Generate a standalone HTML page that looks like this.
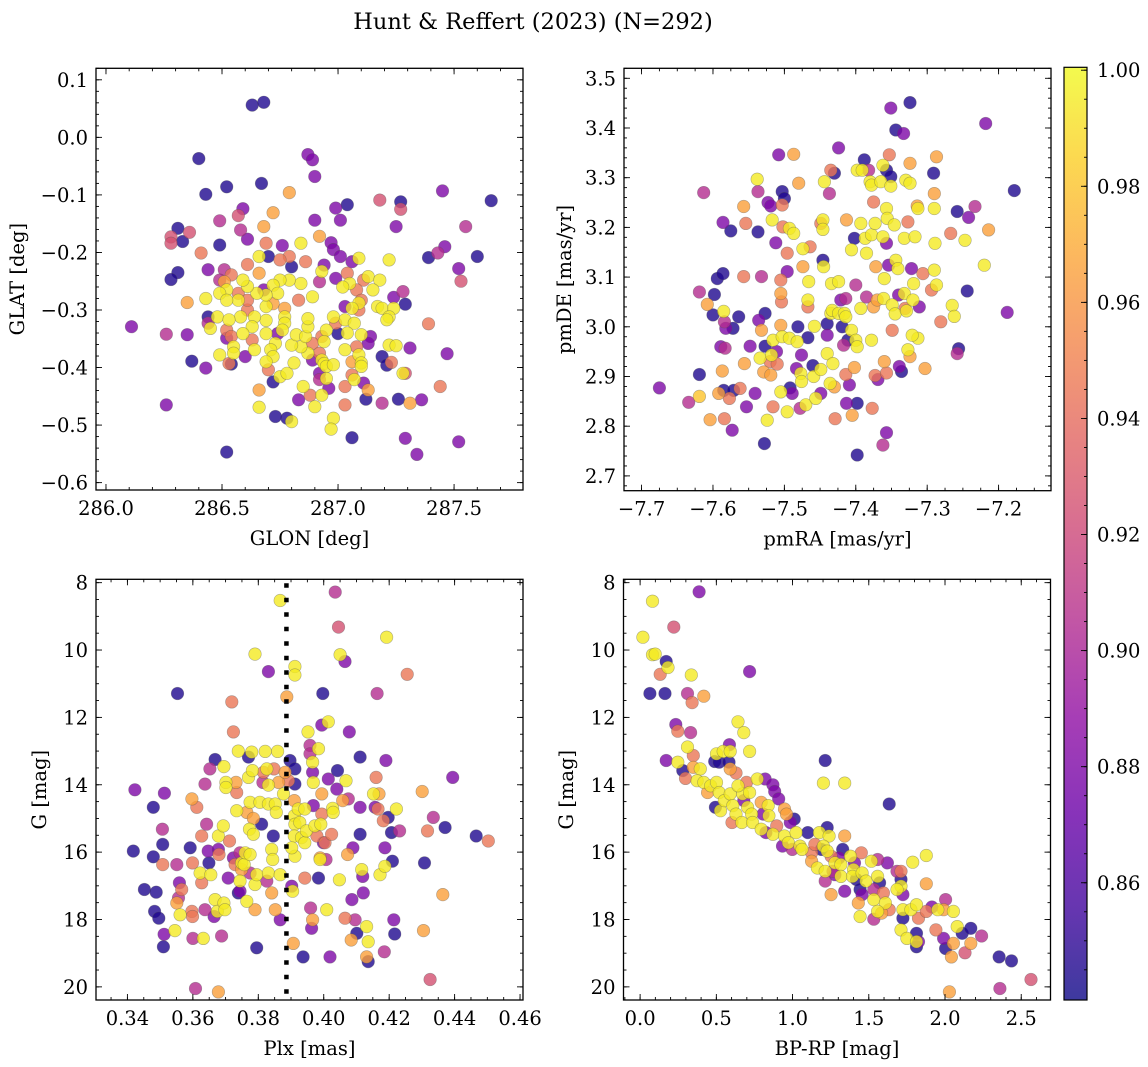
<!DOCTYPE html>
<html><head><meta charset="utf-8">
<style>
html,body{margin:0;padding:0;background:#fff;}
svg{display:block;font-family:"DejaVu Serif","Liberation Serif",serif;}
</style></head>
<body>
<svg id="fig" width="1148" height="1067" viewBox="0 0 1148 1067" xmlns="http://www.w3.org/2000/svg">
<text x="533" y="29" font-size="22.5" text-anchor="middle">Hunt &amp; Reffert (2023) (N=292)</text>
</svg>
<script>
// ---------- Panel 1: GLON / GLAT ----------
const glon=[286.11,286.63,286.68,286.40,286.43,286.52,286.67,286.79,286.87,286.89,286.90,286.90,286.99,287.01,287.04,287.18,287.27,287.27,287.25,287.45,287.66,287.55,287.46,287.43,287.39,287.60,287.52,287.53,287.28,287.24,287.29,287.39,287.31,287.47,287.19,287.21,287.23,287.29,287.44,287.31,287.36,287.26,287.19,287.29,287.34,287.52,287.06,286.52,286.26,286.26,286.35,286.37,286.43,286.28,286.28,286.31,286.33,286.36,286.31,286.28,286.41,286.35,286.44,286.49,286.49,286.59,286.57,286.58,286.61,286.72,286.68,286.69,286.70,286.76,286.79,286.75,286.80,286.86,286.92,286.84,286.97,286.98,287.01,287.06,287.09,287.22,286.94,286.61,286.66,286.66,286.93,286.92,286.99,287.04,287.05,287.02,287.11,287.13,287.18,287.15,287.08,287.10,287.09,287.17,287.19,287.24,287.22,287.21,287.09,287.03,287.03,287.07,287.04,287.10,287.14,287.13,287.08,287.03,287.09,287.10,287.06,287.10,287.07,287.06,287.11,287.13,287.12,287.03,287.03,287.22,287.25,287.28,286.98,286.99,286.95,287.00,286.93,286.89,286.94,286.92,286.93,286.94,286.89,286.92,286.95,286.98,286.92,286.95,286.96,286.93,286.90,286.98,286.97,286.88,286.85,286.83,286.80,286.78,286.73,286.66,286.66,286.72,286.75,286.78,286.81,286.87,286.84,286.80,286.82,286.86,286.87,286.87,286.83,286.89,286.84,286.79,286.75,286.72,286.74,286.72,286.77,286.77,286.77,286.76,286.74,286.73,286.71,286.72,286.69,286.70,286.69,286.69,286.69,286.69,286.68,286.65,286.64,286.63,286.64,286.63,286.60,286.61,286.58,286.59,286.57,286.57,286.61,286.59,286.54,286.51,286.52,286.51,286.49,286.49,286.52,286.43,286.48,286.44,286.44,286.45,286.53,286.52,286.54,286.52,286.55,286.55,286.49,286.54,286.53,286.61,287.06];
const glat=[-0.329,0.056,0.061,-0.037,-0.099,-0.086,-0.080,-0.096,-0.030,-0.039,-0.068,-0.144,-0.123,-0.144,-0.117,-0.109,-0.112,-0.125,-0.155,-0.093,-0.110,-0.155,-0.190,-0.201,-0.209,-0.207,-0.228,-0.250,-0.268,-0.278,-0.290,-0.324,-0.366,-0.376,-0.381,-0.396,-0.391,-0.410,-0.433,-0.462,-0.456,-0.455,-0.462,-0.523,-0.551,-0.529,-0.522,-0.547,-0.465,-0.342,-0.343,-0.389,-0.401,-0.173,-0.184,-0.158,-0.181,-0.165,-0.235,-0.247,-0.201,-0.287,-0.230,-0.145,-0.187,-0.124,-0.136,-0.161,-0.177,-0.131,-0.155,-0.184,-0.207,-0.188,-0.207,-0.213,-0.225,-0.216,-0.172,-0.184,-0.183,-0.195,-0.207,-0.216,-0.210,-0.213,-0.222,-0.221,-0.207,-0.236,-0.233,-0.251,-0.245,-0.236,-0.254,-0.260,-0.248,-0.242,-0.248,-0.265,-0.265,-0.283,-0.288,-0.294,-0.297,-0.297,-0.312,-0.317,-0.300,-0.294,-0.317,-0.323,-0.340,-0.343,-0.346,-0.358,-0.364,-0.369,-0.378,-0.392,-0.390,-0.398,-0.421,-0.413,-0.427,-0.439,-0.455,-0.433,-0.465,-0.361,-0.362,-0.410,-0.312,-0.323,-0.335,-0.341,-0.346,-0.358,-0.355,-0.375,-0.387,-0.393,-0.387,-0.410,-0.398,-0.395,-0.421,-0.419,-0.436,-0.448,-0.468,-0.488,-0.507,-0.448,-0.433,-0.456,-0.494,-0.488,-0.485,-0.439,-0.469,-0.425,-0.416,-0.410,-0.392,-0.375,-0.364,-0.361,-0.343,-0.346,-0.329,-0.315,-0.283,-0.277,-0.254,-0.248,-0.248,-0.257,-0.271,-0.289,-0.297,-0.312,-0.323,-0.335,-0.341,-0.358,-0.369,-0.381,-0.390,-0.404,-0.341,-0.318,-0.294,-0.274,-0.265,-0.271,-0.312,-0.329,-0.369,-0.352,-0.381,-0.300,-0.312,-0.341,-0.283,-0.271,-0.259,-0.248,-0.239,-0.230,-0.265,-0.251,-0.248,-0.271,-0.283,-0.280,-0.312,-0.312,-0.323,-0.332,-0.317,-0.335,-0.346,-0.349,-0.364,-0.375,-0.378,-0.394,-0.393,-0.283,-0.297];
const prob1=[.88,.845,.845,.845,.845,.845,.845,.965,.88,.88,.88,.88,.88,.88,.845,.925,.845,.925,.88,.88,.845,.905,.88,.905,.845,.845,.88,.925,.905,.88,.845,.945,.88,.88,.845,.845,.945,.925,.945,.965,.88,.845,.905,.88,.88,.88,.845,.845,.88,.905,.88,.845,.88,.925,.925,.845,.845,.925,.845,.845,.945,.965,.88,.905,.845,.88,.925,.905,.88,.965,.965,.945,.845,.88,.945,.945,.845,.945,.965,.995,.88,.88,.88,.88,.995,.995,.88,.945,.995,.965,.995,.905,.88,.945,.995,.995,.945,.995,.995,.995,.945,.945,.995,.995,.995,.995,.995,.995,.945,.88,.995,.995,.995,.995,.88,.88,.945,.995,.995,.995,.965,.995,.995,.945,.88,.965,.845,.945,.945,.995,.995,.995,.995,.945,.995,.845,.945,.945,.995,.945,.995,.995,.88,.88,.995,.995,.905,.995,.88,.995,.995,.995,.995,.945,.995,.88,.995,.845,.845,.965,.995,.845,.995,.995,.995,.995,.995,.995,.995,.995,.995,.995,.945,.995,.995,.995,.995,.995,.995,.965,.965,.995,.995,.995,.88,.995,.995,.995,.995,.945,.995,.995,.995,.995,.88,.995,.995,.995,.995,.945,.88,.945,.995,.995,.995,.945,.995,.995,.945,.905,.995,.965,.905,.995,.995,.995,.995,.845,.905,.995,.995,.945,.945,.88,.995,.995,.995,.845,.945,.945,.995];

// ---------- Panel 2: pmRA / pmDE ----------
const pmra=[-7.675,-7.634,-7.619,-7.619,-7.613,-7.619,-7.608,-7.598,-7.600,-7.594,-7.586,-7.586,-7.575,-7.604,-7.592,-7.587,-7.589,-7.585,-7.584,-7.582,-7.572,-7.583,-7.585,-7.577,-7.584,-7.573,-7.571,-7.562,-7.564,-7.557,-7.557,-7.554,-7.556,-7.553,-7.548,-7.541,-7.538,-7.537,-7.537,-7.536,-7.534,-7.532,-7.532,-7.529,-7.528,-7.527,-7.527,-7.524,-7.523,-7.519,-7.517,-7.519,-7.520,-7.516,-7.512,-7.518,-7.511,-7.508,-7.510,-7.516,-7.505,-7.505,-7.504,-7.505,-7.503,-7.503,-7.503,-7.502,-7.500,-7.496,-7.496,-7.493,-7.493,-7.492,-7.489,-7.487,-7.487,-7.496,-7.505,-7.483,-7.481,-7.480,-7.482,-7.478,-7.477,-7.476,-7.476,-7.474,-7.474,-7.470,-7.467,-7.467,-7.467,-7.466,-7.464,-7.460,-7.459,-7.458,-7.456,-7.449,-7.449,-7.446,-7.446,-7.446,-7.445,-7.449,-7.444,-7.440,-7.440,-7.437,-7.435,-7.430,-7.440,-7.435,-7.433,-7.436,-7.432,-7.430,-7.429,-7.434,-7.424,-7.424,-7.424,-7.421,-7.419,-7.417,-7.416,-7.414,-7.414,-7.414,-7.413,-7.413,-7.411,-7.409,-7.406,-7.405,-7.406,-7.402,-7.400,-7.398,-7.398,-7.400,-7.398,-7.398,-7.393,-7.402,-7.393,-7.391,-7.388,-7.385,-7.387,-7.385,-7.382,-7.380,-7.378,-7.378,-7.375,-7.378,-7.377,-7.375,-7.373,-7.373,-7.370,-7.372,-7.369,-7.365,-7.362,-7.362,-7.362,-7.361,-7.360,-7.360,-7.357,-7.357,-7.357,-7.357,-7.357,-7.356,-7.354,-7.353,-7.351,-7.351,-7.351,-7.349,-7.349,-7.346,-7.345,-7.344,-7.344,-7.341,-7.340,-7.339,-7.336,-7.333,-7.332,-7.332,-7.331,-7.330,-7.329,-7.327,-7.324,-7.324,-7.324,-7.327,-7.324,-7.322,-7.320,-7.319,-7.317,-7.314,-7.313,-7.311,-7.313,-7.321,-7.306,-7.303,-7.294,-7.291,-7.290,-7.290,-7.290,-7.289,-7.287,-7.287,-7.281,-7.267,-7.265,-7.262,-7.258,-7.258,-7.256,-7.247,-7.244,-7.242,-7.233,-7.220,-7.218,-7.214,-7.188,-7.178];
const pmde=[2.877,2.848,2.904,2.860,3.270,3.070,3.045,3.065,3.024,3.097,3.107,3.210,3.193,2.813,2.866,2.911,2.960,3.031,3.010,2.997,2.997,2.957,2.872,2.856,2.815,2.792,2.872,2.876,3.020,3.101,3.242,3.208,2.926,2.839,2.961,2.866,3.297,3.272,3.191,3.013,2.937,2.993,3.101,2.909,2.765,3.027,2.961,2.812,3.250,3.243,3.215,2.903,2.930,2.973,3.169,2.943,2.950,3.346,2.925,2.839,3.094,3.067,3.050,3.003,2.980,3.245,3.272,3.201,3.258,3.148,3.111,2.977,3.198,2.877,2.866,3.188,3.347,2.829,2.869,2.916,3.000,3.289,2.970,2.836,2.906,2.890,2.943,3.121,3.157,2.843,3.040,3.054,2.978,3.091,3.161,2.922,2.900,3.001,2.856,2.914,3.208,3.215,3.196,3.134,3.121,2.866,3.292,3.006,2.983,3.268,3.315,3.309,2.946,3.027,3.033,2.886,2.926,2.879,2.815,3.087,3.360,3.091,3.027,3.054,3.000,2.963,3.027,3.020,3.057,2.904,2.846,3.215,2.973,2.883,3.155,2.822,2.993,2.918,3.084,2.846,2.742,2.973,2.960,3.315,3.208,3.178,3.037,3.315,3.336,3.060,3.178,3.148,3.315,3.292,3.285,3.185,3.040,2.973,2.836,3.251,3.208,2.902,3.054,3.121,2.894,3.292,3.325,2.762,3.181,3.057,3.097,2.930,3.315,3.238,3.168,2.787,2.907,3.218,3.124,3.346,3.440,3.302,3.283,3.044,2.993,3.205,3.026,3.396,3.134,3.117,3.064,2.920,2.910,3.389,3.178,3.067,3.037,3.295,3.032,3.211,3.329,3.451,2.940,2.954,3.289,3.117,3.054,3.087,3.181,3.243,3.238,3.040,2.977,2.983,3.107,2.916,3.074,3.309,3.268,3.114,3.238,3.168,3.342,3.084,3.010,3.188,3.043,3.021,3.232,2.946,2.956,3.174,3.072,3.220,3.242,3.124,3.409,3.195,3.029,3.274];
const prob2=[.88,.905,.845,.98,.905,.905,.965,.845,.845,.845,.845,.88,.845,.965,.965,.965,.88,.995,.905,.88,.845,.905,.845,.945,.945,.88,.845,.945,.845,.945,.965,.945,.965,.88,.88,.88,.995,.905,.845,.88,.995,.965,.905,.965,.845,.845,.845,.995,.88,.88,.995,.965,.945,.995,.88,.995,.88,.88,.945,.945,.945,.965,.945,.965,.995,.945,.845,.945,.845,.945,.88,.995,.995,.845,.88,.995,.965,.995,.995,.88,.845,.965,.995,.905,.995,.995,.88,.965,.995,.995,.945,.995,.845,.995,.945,.845,.995,.995,.995,.995,.945,.995,.995,.845,.995,.88,.995,.845,.88,.905,.945,.845,.995,.995,.995,.995,.995,.965,.945,.995,.88,.995,.995,.88,.845,.905,.995,.995,.905,.945,.88,.965,.845,.88,.995,.965,.995,.965,.905,.845,.845,.995,.995,.995,.995,.845,.995,.995,.845,.905,.995,.995,.905,.995,.995,.995,.965,.995,.945,.945,.995,.945,.965,.965,.88,.995,.995,.905,.995,.995,.995,.965,.845,.995,.88,.88,.945,.995,.88,.945,.88,.845,.995,.995,.945,.995,.995,.845,.995,.995,.88,.88,.845,.88,.995,.995,.945,.995,.995,.945,.965,.845,.965,.995,.995,.88,.995,.995,.995,.965,.995,.88,.995,.995,.945,.965,.945,.845,.965,.995,.995,.995,.965,.995,.945,.945,.995,.995,.845,.905,.845,.995,.845,.88,.905,.995,.88,.965,.88,.845];

// ---------- Panel 3: Plx / G ----------
const plx=[0.3423,0.3418,0.3452,0.3479,0.3479,0.3488,0.3483,0.3496,0.3507,0.3508,0.3508,0.3513,0.3512,0.3510,0.3545,0.3551,0.3553,0.3559,0.3561,0.3551,0.3566,0.3556,0.3592,0.3597,0.3612,0.3597,0.3599,0.3599,0.3600,0.3608,0.3622,0.3627,0.3627,0.3632,0.3637,0.3637,0.3642,0.3647,0.3649,0.3652,0.3668,0.3655,0.3665,0.3668,0.3675,0.3678,0.3678,0.3678,0.3680,0.3688,0.3695,0.3698,0.3695,0.3693,0.3701,0.3701,0.3708,0.3712,0.3719,0.3724,0.3724,0.3729,0.3732,0.3734,0.3734,0.3739,0.3739,0.3744,0.3744,0.3749,0.3744,0.3749,0.3757,0.3760,0.3765,0.3765,0.3770,0.3770,0.3773,0.3775,0.3775,0.3775,0.3780,0.3782,0.3785,0.3785,0.3790,0.3790,0.3790,0.3795,0.3795,0.3805,0.3810,0.3814,0.3816,0.3821,0.3826,0.3831,0.3831,0.3831,0.3826,0.3831,0.3841,0.3846,0.3841,0.3844,0.3848,0.3852,0.3855,0.3852,0.3859,0.3862,0.3867,0.3867,0.3867,0.3877,0.3887,0.3882,0.3892,0.3897,0.3902,0.3905,0.3907,0.3912,0.3912,0.3912,0.3912,0.3910,0.3910,0.3912,0.3910,0.3912,0.3902,0.3922,0.3927,0.3932,0.3937,0.3942,0.3942,0.3942,0.3947,0.3952,0.3958,0.3958,0.3960,0.3963,0.3966,0.3966,0.3966,0.3968,0.3968,0.3973,0.3979,0.3984,0.3984,0.3989,0.3989,0.3991,0.3994,0.3994,0.3997,0.3994,0.3999,0.4004,0.4007,0.4009,0.4014,0.4014,0.4019,0.4024,0.4027,0.4029,0.4035,0.4040,0.4042,0.4045,0.4048,0.4050,0.4058,0.4065,0.4068,0.4065,0.4073,0.4075,0.4078,0.4084,0.4086,0.4089,0.4096,0.4101,0.4111,0.4111,0.4116,0.4119,0.4121,0.4111,0.4131,0.4136,0.4131,0.4136,0.4152,0.4157,0.4160,0.4163,0.4166,0.4169,0.4172,0.4182,0.4187,0.4187,0.4185,0.4190,0.4192,0.4197,0.4207,0.4210,0.4214,0.4217,0.4222,0.4232,0.4255,0.4301,0.4305,0.4308,0.4317,0.4325,0.4335,0.4364,0.4371,0.4394,0.4466,0.4503];
const gmag3=[14.15,15.97,17.11,14.67,16.14,17.19,17.76,17.96,15.32,15.77,16.37,14.25,18.44,18.81,18.33,16.37,11.29,16.91,17.86,17.51,17.11,17.36,15.87,14.42,14.67,17.76,17.91,16.32,18.56,20.05,16.62,16.91,15.52,18.56,13.98,17.71,15.17,15.97,16.32,13.53,13.25,16.67,17.91,17.41,17.76,15.92,15.52,20.15,16.07,18.49,17.51,17.71,13.46,15.22,13.93,14.08,16.77,15.67,11.54,12.43,16.17,16.37,13.93,14.23,14.77,13.00,17.21,16.02,16.86,16.32,17.16,16.52,16.37,16.02,17.46,14.82,13.18,13.78,15.32,14.52,16.07,16.62,13.03,13.58,15.00,15.47,17.71,10.12,16.96,16.67,18.84,14.52,15.17,13.93,13.63,13.01,13.53,14.01,14.57,10.64,16.86,16.62,17.21,15.52,15.92,16.22,13.53,14.57,14.82,17.71,13.01,13.93,16.67,18.01,8.53,14.27,11.39,13.63,13.88,13.28,17.01,17.16,18.71,10.49,10.74,13.53,13.98,14.47,14.92,15.17,15.52,16.12,15.87,14.72,15.12,15.57,19.11,16.77,15.72,14.72,15.37,12.43,12.83,13.08,17.66,18.26,18.01,13.63,13.33,13.93,14.62,15.22,15.52,16.77,12.93,16.17,16.22,15.17,14.27,14.87,11.29,12.23,15.72,15.72,16.22,17.71,12.13,13.83,19.11,15.47,14.70,14.82,8.28,14.13,13.58,9.32,16.82,10.14,14.47,10.34,13.88,17.96,16.07,14.42,12.43,18.61,17.41,15.87,18.01,18.41,15.47,14.67,16.52,16.72,17.21,13.18,18.21,18.66,19.11,19.25,14.27,14.67,13.78,11.29,14.72,14.27,16.67,15.07,16.42,15.87,18.96,13.28,9.62,14.97,15.42,16.27,18.01,18.43,14.72,15.37,10.72,14.20,18.33,16.32,15.37,19.78,14.97,17.26,15.27,13.78,15.52,15.67];
const prob3=[.88,.845,.845,.845,.845,.845,.845,.845,.905,.845,.945,.88,.88,.845,.995,.905,.845,.88,.995,.965,.945,.905,.845,.965,.945,.945,.945,.945,.905,.905,.995,.945,.945,.995,.905,.905,.905,.88,.845,.905,.845,.995,.88,.995,.995,.88,.995,.965,.945,.905,.995,.995,.995,.995,.995,.995,.88,.945,.945,.945,.88,.945,.965,.945,.995,.995,.845,.905,.995,.995,.88,.965,.995,.995,.995,.965,.845,.995,.995,.995,.995,.905,.995,.995,.965,.995,.965,.995,.995,.995,.845,.995,.845,.905,.945,.995,.995,.995,.995,.88,.905,.995,.965,.845,.995,.995,.945,.995,.995,.965,.995,.965,.995,.88,.995,.995,.965,.965,.945,.845,.88,.995,.965,.995,.995,.845,.845,.965,.995,.995,.995,.995,.995,.995,.995,.995,.845,.945,.995,.995,.995,.995,.905,.905,.905,.88,.965,.88,.995,.995,.88,.995,.945,.845,.995,.965,.995,.995,.965,.945,.845,.88,.88,.945,.905,.995,.995,.88,.88,.945,.995,.995,.905,.88,.845,.925,.995,.995,.965,.88,.995,.945,.965,.905,.88,.965,.88,.88,.905,.845,.845,.88,.995,.88,.88,.845,.995,.995,.965,.845,.995,.88,.945,.905,.945,.965,.995,.945,.995,.88,.905,.88,.995,.845,.845,.845,.88,.845,.995,.905,.945,.965,.965,.845,.945,.925,.905,.965,.845,.88,.845,.945];

// ---------- Panel 4: BP-RP / G ----------
const bprp=[0.081,0.387,0.018,0.221,0.081,0.099,0.171,0.183,0.132,0.336,0.718,0.064,0.163,0.311,0.341,0.418,0.234,0.247,0.331,0.642,0.680,0.718,0.311,0.349,0.171,0.247,0.280,0.298,0.349,0.395,0.374,0.418,0.443,0.463,0.489,0.501,0.519,0.545,0.586,0.591,0.583,0.591,0.629,0.501,0.519,0.494,0.527,0.552,0.591,0.608,0.629,0.603,0.667,0.672,0.642,0.718,0.698,0.680,0.705,0.731,0.738,0.769,0.820,0.794,0.807,0.840,0.845,0.871,0.883,0.909,0.794,0.825,0.871,0.896,0.947,0.960,0.947,0.985,1.011,1.023,0.973,0.934,0.998,1.049,1.062,1.100,1.125,1.146,1.176,1.189,1.227,1.240,1.202,1.227,1.253,1.214,1.202,1.342,1.342,1.329,1.304,1.278,1.317,1.125,1.163,1.214,1.265,1.214,1.278,1.317,1.380,1.406,1.451,1.400,1.418,1.393,1.456,1.482,1.443,1.456,1.342,1.253,1.517,1.558,1.622,1.571,1.558,1.533,1.596,1.431,1.533,1.609,1.558,1.533,1.584,1.634,1.443,1.634,1.685,1.711,1.711,1.711,1.724,1.685,1.724,1.724,1.776,1.813,1.826,1.877,1.788,1.877,1.877,1.711,1.750,1.813,1.826,1.813,1.813,1.914,1.940,1.953,1.991,2.055,2.004,1.991,2.004,2.042,2.029,2.080,2.055,2.113,2.131,2.169,2.169,2.240,2.355,2.436,2.360,2.564];
const gmag4=[8.55,8.27,9.62,9.32,10.14,10.12,10.34,10.52,10.72,10.74,10.64,11.29,11.29,11.29,11.56,11.37,12.21,12.41,12.45,12.13,12.45,13.01,12.88,13.13,13.28,13.33,13.58,13.81,13.48,13.53,13.88,13.93,14.23,14.03,13.31,13.08,13.33,13.01,12.81,13.01,13.33,13.53,13.65,13.93,14.23,14.67,14.77,14.47,14.27,14.62,14.87,15.12,15.12,14.27,14.03,14.23,13.93,14.47,14.67,14.87,15.12,13.83,13.83,14.52,14.87,14.62,14.92,14.00,14.20,14.42,15.32,15.42,15.47,15.22,14.72,14.87,15.52,15.12,15.02,15.42,15.72,15.82,15.92,15.82,15.92,15.42,16.02,15.77,15.42,15.92,15.27,15.52,15.82,15.97,16.12,13.28,13.95,13.95,15.52,15.92,16.17,16.32,16.37,16.27,16.47,16.57,16.57,16.86,16.67,16.72,16.12,16.32,16.02,16.52,16.81,16.72,16.62,16.86,17.11,17.26,17.16,17.26,16.27,16.22,16.32,16.91,16.72,17.11,17.21,17.51,17.41,17.51,17.76,17.99,17.81,17.71,17.91,14.57,16.57,16.57,16.81,17.01,17.26,17.11,17.71,17.96,17.71,17.56,17.96,17.76,16.30,16.10,16.94,18.31,18.56,18.41,18.66,18.81,18.66,17.63,18.31,17.71,17.71,17.76,17.41,18.56,18.86,19.11,20.15,18.21,18.71,18.41,18.99,18.26,18.71,18.49,19.11,19.23,20.05,19.78];
const prob4=[.995,.88,.995,.925,.995,.995,.845,.995,.945,.995,.88,.845,.845,.905,.945,.965,.88,.945,.905,.995,.995,.995,.995,.945,.88,.995,.845,.945,.965,.995,.995,.995,.965,.995,.845,.995,.845,.995,.88,.995,.845,.965,.945,.995,.995,.845,.995,.995,.995,.995,.995,.945,.995,.995,.995,.995,.945,.88,.995,.995,.995,.995,.88,.965,.88,.995,.995,.88,.88,.88,.995,.88,.995,.945,.965,.965,.995,.88,.845,.995,.995,.88,.905,.995,.995,.845,.945,.945,.995,.845,.845,.995,.995,.995,.945,.845,.995,.995,.965,.845,.88,.995,.995,.965,.995,.995,.905,.905,.88,.995,.995,.88,.945,.995,.845,.995,.995,.995,.845,.88,.88,.965,.995,.905,.88,.845,.995,.905,.945,.965,.995,.995,.995,.905,.965,.945,.995,.845,.905,.945,.845,.995,.88,.995,.995,.845,.995,.995,.945,.945,.995,.995,.965,.995,.995,.845,.88,.845,.995,.88,.945,.995,.965,.995,.905,.88,.845,.965,.965,.995,.965,.845,.925,.845,.965,.905,.845,.845,.905,.925];

const CB_TICKS=[0.86,0.88,0.90,0.92,0.94,0.96,0.98,1.00];
const VMIN=0.8398, VMAX=1.0005;

const NS='http://www.w3.org/2000/svg';
const svg=document.getElementById('fig');
function mk(tag,attrs,parent){const e=document.createElementNS(NS,tag);for(const k in attrs)e.setAttribute(k,attrs[k]);(parent||svg).appendChild(e);return e;}

const PL=[[0,'#0d0887'],[0.1,'#41049d'],[0.2,'#6a00a8'],[0.3,'#8f0da4'],[0.4,'#b12a90'],[0.5,'#cc4778'],[0.6,'#e16462'],[0.7,'#f2844b'],[0.8,'#fca636'],[0.9,'#fcce25'],[1,'#f0f921']];
function hx(h){return [1,3,5].map(i=>parseInt(h.substr(i,2),16));}
function plasma(t){t=Math.max(0,Math.min(1,t));for(let i=1;i<PL.length;i++){if(t<=PL[i][0]){const a=PL[i-1],b=PL[i];const f=(t-a[0])/(b[0]-a[0]);const ca=hx(a[1]),cb=hx(b[1]);return 'rgb('+ca.map((v,j)=>Math.round(v+(cb[j]-v)*f)).join(',')+')';}}return PL[PL.length-1][1];}
function fmt(v,d){const s=Math.abs(v).toFixed(d);return (v<-1e-9?'\u2212':'')+s;}
const FS=19.5;

function panel(cfg,xs,ys,ps){
  const {name,L,R,T,B,xlim,ylim,xmaj,xmin,ymaj,ymin,xd,yd,xlabel,ylabel,ylx}=cfg;
  const sx=v=>L+(v-xlim[0])/(xlim[1]-xlim[0])*(R-L);
  const sy=v=>B-(v-ylim[0])/(ylim[1]-ylim[0])*(B-T);
  const g=mk('g',{});
  
  
  const cid='clip-'+name;
  const cp=mk('clipPath',{id:cid},g);mk('rect',{x:L,y:T,width:R-L,height:B-T},cp);
  const pts=mk('g',{'clip-path':'url(#'+cid+')'},g);
  
  
  const idx=ps.map((p,i)=>i).sort((a,b)=>ps[a]-ps[b]);
  for(const i of idx){
    const c=mk('circle',{cx:sx(xs[i]).toFixed(1),cy:sy(ys[i]).toFixed(1),r:6.3,fill:plasma((ps[i]-VMIN)/(VMAX-VMIN)),'fill-opacity':0.8,stroke:'#555','stroke-opacity':0.45,'stroke-width':0.6},pts);
    
    
  }
  if(cfg.vline!==undefined){
    const l=mk('line',{x1:sx(cfg.vline),x2:sx(cfg.vline),y1:T+4,y2:B,stroke:'#000','stroke-width':4.5,'stroke-dasharray':'4.5 10'},g);
    
    
  }
  const tk=mk('g',{stroke:'#000','stroke-width':0.9},g);
  const lo=Math.min(xlim[0],xlim[1]),hi=Math.max(xlim[0],xlim[1]);
  for(let v=Math.ceil(lo/xmin-1e-6)*xmin;v<=hi+1e-9;v+=xmin){const x=sx(v);mk('line',{x1:x,x2:x,y1:B,y2:B-3},tk);mk('line',{x1:x,x2:x,y1:T,y2:T+3},tk);}
  const ylo=Math.min(ylim[0],ylim[1]),yhi=Math.max(ylim[0],ylim[1]);
  for(let v=Math.ceil(ylo/ymin-1e-6)*ymin;v<=yhi+1e-9;v+=ymin){const y=sy(v);mk('line',{x1:L,x2:L+3,y1:y,y2:y},tk);mk('line',{x1:R,x2:R-3,y1:y,y2:y},tk);}
  for(const v of xmaj){const x=sx(v);mk('line',{x1:x,x2:x,y1:B,y2:B-6},tk);mk('line',{x1:x,x2:x,y1:T,y2:T+6},tk);
    const t=mk('text',{x:x,y:B+25,'font-size':FS,'text-anchor':'middle'},g);t.textContent=fmt(v,xd);
    
    }
  for(const v of ymaj){const y=sy(v);mk('line',{x1:L,x2:L+6,y1:y,y2:y},tk);mk('line',{x1:R,x2:R-6,y1:y,y2:y},tk);
    const t=mk('text',{x:L-8,y:y+7,'font-size':FS,'text-anchor':'end'},g);t.textContent=fmt(v,yd);
    
    }
  mk('rect',{x:L,y:T,width:R-L,height:B-T,fill:'none',stroke:'#000','stroke-width':1.3},g);
  const xl=mk('text',{x:(L+R)/2,y:B+55,'font-size':FS,'text-anchor':'middle'},g);xl.textContent=xlabel;
  
  
  const yc=(T+B)/2;
  const yl=mk('text',{x:ylx,y:yc,'font-size':FS,'text-anchor':'middle',transform:'rotate(-90 '+ylx+' '+yc+')'},g);yl.textContent=ylabel;
  
  
}

panel({name:'glon-glat-panel',L:96,R:523,T:68.3,B:490,xlim:[285.957,287.797],ylim:[-0.6128,0.12],
  xmaj:[286.0,286.5,287.0,287.5],xmin:0.1,ymaj:[-0.6,-0.5,-0.4,-0.3,-0.2,-0.1,0.0,0.1],ymin:0.02,xd:1,yd:1,
  xlabel:'GLON [deg]',ylabel:'GLAT [deg]',ylx:24},glon,glat,prob1);
panel({name:'pm-panel',L:624,R:1051,T:68.3,B:490.7,xlim:[-7.7246,-7.1266],ylim:[2.6702,3.5201],
  xmaj:[-7.7,-7.6,-7.5,-7.4,-7.3,-7.2],xmin:0.025,ymaj:[2.7,2.8,2.9,3.0,3.1,3.2,3.3,3.4,3.5],ymin:0.02,xd:1,yd:1,
  xlabel:'pmRA [mas/yr]',ylabel:'pmDE [mas/yr]',ylx:571},pmra,pmde,prob2);
panel({name:'plx-g-panel',L:96,R:523,T:579.3,B:1000,xlim:[0.3304,0.4609],ylim:[20.39,7.9],
  xmaj:[0.34,0.36,0.38,0.40,0.42,0.44,0.46],xmin:0.005,ymaj:[8,10,12,14,16,18,20],ymin:0.5,xd:2,yd:0,
  xlabel:'Plx [mas]',ylabel:'G [mag]',ylx:46,vline:0.3886},plx,gmag3,prob3);
panel({name:'cmd-panel',L:623.5,R:1050.5,T:579.3,B:1000,xlim:[-0.109,2.692],ylim:[20.39,7.9],
  xmaj:[0,0.5,1.0,1.5,2.0,2.5],xmin:0.1,ymaj:[8,10,12,14,16,18,20],ymin:0.5,xd:1,yd:0,
  xlabel:'BP-RP [mag]',ylabel:'G [mag]',ylx:573},bprp,gmag4,prob4);

(function(){
  const L=1064,R=1087,T=67.3,B=1000;
  const cg=mk('g',{});
  
  
  const defs=mk('defs',{},cg);
  const lg=mk('linearGradient',{id:'cbgrad',x1:0,y1:1,x2:0,y2:0},defs);
  for(let i=0;i<=20;i++){mk('stop',{offset:i/20,'stop-color':plasma(i/20)},lg);}
  mk('rect',{x:L,y:T,width:R-L,height:B-T,fill:'url(#cbgrad)','fill-opacity':0.8},cg);
  const sy=v=>B-(v-VMIN)/(VMAX-VMIN)*(B-T);
  const tk=mk('g',{stroke:'#000','stroke-width':0.9},cg);
  for(let v=0.845;v<1.0001;v+=0.005){const y=sy(v);if(y<T||y>B)continue;mk('line',{x1:R,x2:R-3,y1:y,y2:y},tk);}
  for(const v of CB_TICKS){const y=sy(v);mk('line',{x1:R,x2:R-6,y1:y,y2:y},tk);
    const t=mk('text',{x:R+10,y:y+7,'font-size':FS},cg);t.textContent=v.toFixed(2);
    
    }
  mk('rect',{x:L,y:T,width:R-L,height:B-T,fill:'none',stroke:'#000','stroke-width':1.2},cg);
})();
</script>
</body></html>
